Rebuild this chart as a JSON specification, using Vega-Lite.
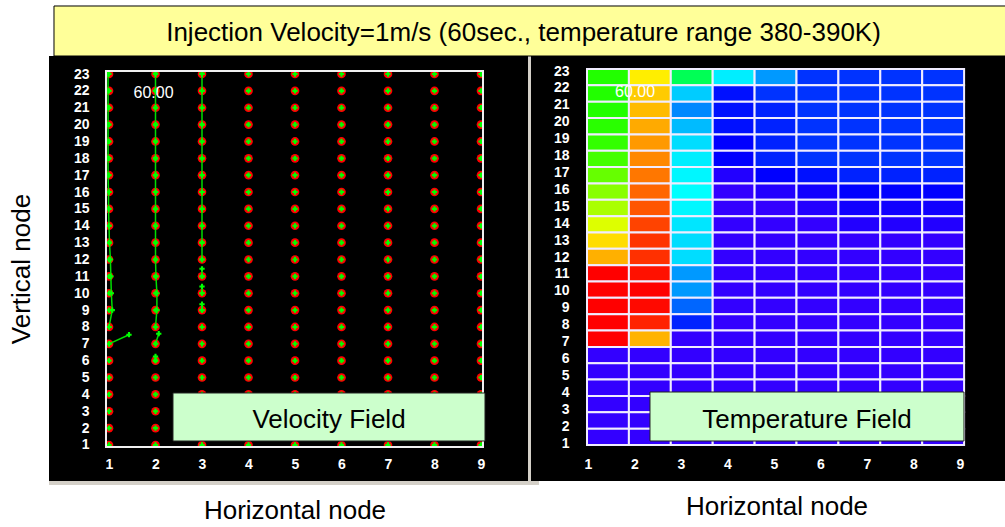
{
"$schema":"https://vega.github.io/schema/vega-lite/v6.json",
"background":"white",
"padding":{"left":8,"top":5,"right":0,"bottom":0},
"bounds":"flush",
"spacing":3,
"config":{
 "view":{"fill":"black","stroke":null},
 "font":"Liberation Sans",
 "axis":{"labelFont":"Liberation Sans","labelColor":"white","labelFontSize":14,"labelFontWeight":"bold","titleFont":"Liberation Sans","titleFontSize":26,"titleFontWeight":"normal","titleColor":"black","domain":false,"ticks":false,"grid":false,"labelPadding":0,"labelOverlap":false,"labelFlush":false}
},
"datasets":{
 "nodes":[
{"x":1,"y":1},{"x":1,"y":2},{"x":1,"y":3},{"x":1,"y":4},{"x":1,"y":5},{"x":1,"y":6},{"x":1,"y":7},{"x":1,"y":8},{"x":1,"y":9},{"x":1,"y":10},{"x":1,"y":11},{"x":1,"y":12},{"x":1,"y":13},{"x":1,"y":14},{"x":1,"y":15},{"x":1,"y":16},{"x":1,"y":17},{"x":1,"y":18},{"x":1,"y":19},{"x":1,"y":20},{"x":1,"y":21},{"x":1,"y":22},{"x":1,"y":23},
{"x":2,"y":1},{"x":2,"y":2},{"x":2,"y":3},{"x":2,"y":4},{"x":2,"y":5},{"x":2,"y":6},{"x":2,"y":7},{"x":2,"y":8},{"x":2,"y":9},{"x":2,"y":10},{"x":2,"y":11},{"x":2,"y":12},{"x":2,"y":13},{"x":2,"y":14},{"x":2,"y":15},{"x":2,"y":16},{"x":2,"y":17},{"x":2,"y":18},{"x":2,"y":19},{"x":2,"y":20},{"x":2,"y":21},{"x":2,"y":22},{"x":2,"y":23},
{"x":3,"y":1},{"x":3,"y":2},{"x":3,"y":3},{"x":3,"y":4},{"x":3,"y":5},{"x":3,"y":6},{"x":3,"y":7},{"x":3,"y":8},{"x":3,"y":9},{"x":3,"y":10},{"x":3,"y":11},{"x":3,"y":12},{"x":3,"y":13},{"x":3,"y":14},{"x":3,"y":15},{"x":3,"y":16},{"x":3,"y":17},{"x":3,"y":18},{"x":3,"y":19},{"x":3,"y":20},{"x":3,"y":21},{"x":3,"y":22},{"x":3,"y":23},
{"x":4,"y":1},{"x":4,"y":2},{"x":4,"y":3},{"x":4,"y":4},{"x":4,"y":5},{"x":4,"y":6},{"x":4,"y":7},{"x":4,"y":8},{"x":4,"y":9},{"x":4,"y":10},{"x":4,"y":11},{"x":4,"y":12},{"x":4,"y":13},{"x":4,"y":14},{"x":4,"y":15},{"x":4,"y":16},{"x":4,"y":17},{"x":4,"y":18},{"x":4,"y":19},{"x":4,"y":20},{"x":4,"y":21},{"x":4,"y":22},{"x":4,"y":23},
{"x":5,"y":1},{"x":5,"y":2},{"x":5,"y":3},{"x":5,"y":4},{"x":5,"y":5},{"x":5,"y":6},{"x":5,"y":7},{"x":5,"y":8},{"x":5,"y":9},{"x":5,"y":10},{"x":5,"y":11},{"x":5,"y":12},{"x":5,"y":13},{"x":5,"y":14},{"x":5,"y":15},{"x":5,"y":16},{"x":5,"y":17},{"x":5,"y":18},{"x":5,"y":19},{"x":5,"y":20},{"x":5,"y":21},{"x":5,"y":22},{"x":5,"y":23},
{"x":6,"y":1},{"x":6,"y":2},{"x":6,"y":3},{"x":6,"y":4},{"x":6,"y":5},{"x":6,"y":6},{"x":6,"y":7},{"x":6,"y":8},{"x":6,"y":9},{"x":6,"y":10},{"x":6,"y":11},{"x":6,"y":12},{"x":6,"y":13},{"x":6,"y":14},{"x":6,"y":15},{"x":6,"y":16},{"x":6,"y":17},{"x":6,"y":18},{"x":6,"y":19},{"x":6,"y":20},{"x":6,"y":21},{"x":6,"y":22},{"x":6,"y":23},
{"x":7,"y":1},{"x":7,"y":2},{"x":7,"y":3},{"x":7,"y":4},{"x":7,"y":5},{"x":7,"y":6},{"x":7,"y":7},{"x":7,"y":8},{"x":7,"y":9},{"x":7,"y":10},{"x":7,"y":11},{"x":7,"y":12},{"x":7,"y":13},{"x":7,"y":14},{"x":7,"y":15},{"x":7,"y":16},{"x":7,"y":17},{"x":7,"y":18},{"x":7,"y":19},{"x":7,"y":20},{"x":7,"y":21},{"x":7,"y":22},{"x":7,"y":23},
{"x":8,"y":1},{"x":8,"y":2},{"x":8,"y":3},{"x":8,"y":4},{"x":8,"y":5},{"x":8,"y":6},{"x":8,"y":7},{"x":8,"y":8},{"x":8,"y":9},{"x":8,"y":10},{"x":8,"y":11},{"x":8,"y":12},{"x":8,"y":13},{"x":8,"y":14},{"x":8,"y":15},{"x":8,"y":16},{"x":8,"y":17},{"x":8,"y":18},{"x":8,"y":19},{"x":8,"y":20},{"x":8,"y":21},{"x":8,"y":22},{"x":8,"y":23},
{"x":9,"y":1},{"x":9,"y":2},{"x":9,"y":3},{"x":9,"y":4},{"x":9,"y":5},{"x":9,"y":6},{"x":9,"y":7},{"x":9,"y":8},{"x":9,"y":9},{"x":9,"y":10},{"x":9,"y":11},{"x":9,"y":12},{"x":9,"y":13},{"x":9,"y":14},{"x":9,"y":15},{"x":9,"y":16},{"x":9,"y":17},{"x":9,"y":18},{"x":9,"y":19},{"x":9,"y":20},{"x":9,"y":21},{"x":9,"y":22},{"x":9,"y":23}
 ],
 "vectors":[
{"s":"a","x":1.0,"y":8},{"s":"a","x":1.07,"y":9},{"s":"a","x":1.05,"y":10},{"s":"a","x":1.04,"y":11},{"s":"a","x":1.03,"y":12},{"s":"a","x":1.01,"y":13},{"s":"a","x":1.0,"y":14},{"s":"a","x":0.99,"y":15},{"s":"a","x":0.99,"y":16},{"s":"a","x":0.98,"y":17},{"s":"a","x":0.98,"y":18},{"s":"a","x":0.98,"y":19},{"s":"a","x":0.98,"y":20},{"s":"a","x":0.98,"y":21},{"s":"a","x":0.98,"y":22},{"s":"a","x":0.98,"y":23},{"s":"a","x":0.98,"y":23.15},
{"s":"b","x":1,"y":7},{"s":"b","x":1.43,"y":7.54},
{"s":"c","x":2,"y":7},{"s":"c","x":2.07,"y":7.6},
{"s":"d","x":2.0,"y":8},{"s":"d","x":2.03,"y":9},{"s":"d","x":2.03,"y":10},{"s":"d","x":2.01,"y":11},{"s":"d","x":2,"y":12},{"s":"d","x":2,"y":13},{"s":"d","x":2,"y":14},{"s":"d","x":2,"y":15},{"s":"d","x":2,"y":16},{"s":"d","x":2,"y":17},{"s":"d","x":2,"y":18},{"s":"d","x":2,"y":19},{"s":"d","x":2,"y":20},{"s":"d","x":2,"y":21},{"s":"d","x":2,"y":22},{"s":"d","x":2,"y":23},{"s":"d","x":2,"y":23.15},
{"s":"e","x":3,"y":12},{"s":"e","x":3,"y":13},{"s":"e","x":3,"y":14},{"s":"e","x":3,"y":15},{"s":"e","x":3,"y":16},{"s":"e","x":3,"y":17},{"s":"e","x":3,"y":18},{"s":"e","x":3,"y":19},{"s":"e","x":3,"y":20},{"s":"e","x":3,"y":21},{"s":"e","x":3,"y":22},{"s":"e","x":3,"y":23},{"s":"e","x":3,"y":23.15},
{"s":"f","x":3,"y":9},{"s":"f","x":3,"y":9.35},
{"s":"g","x":3,"y":10},{"s":"g","x":3,"y":10.4},
{"s":"h","x":3,"y":11},{"s":"h","x":3,"y":11.45},
{"s":"i","x":2,"y":6},{"s":"i","x":2,"y":6.25}
 ],
 "cells":[
{"col":1,"row":23,"T":385.56},{"col":1,"row":22,"T":385.56},{"col":1,"row":21,"T":385.56},{"col":1,"row":20,"T":385.62},{"col":1,"row":19,"T":385.71},{"col":1,"row":18,"T":385.87},{"col":1,"row":17,"T":386.19},{"col":1,"row":16,"T":386.51},{"col":1,"row":15,"T":386.83},{"col":1,"row":14,"T":387.3},{"col":1,"row":13,"T":387.94},{"col":1,"row":12,"T":388.36},{"col":1,"row":11,"T":390},{"col":1,"row":10,"T":390},{"col":1,"row":9,"T":390},{"col":1,"row":8,"T":390},{"col":1,"row":7,"T":390},{"col":1,"row":6,"T":380},{"col":1,"row":5,"T":380},{"col":1,"row":4,"T":380},{"col":1,"row":3,"T":380},{"col":1,"row":2,"T":380},{"col":1,"row":1,"T":380},
{"col":2,"row":23,"T":387.78},{"col":2,"row":22,"T":388.1},{"col":2,"row":21,"T":388.25},{"col":2,"row":20,"T":388.41},{"col":2,"row":19,"T":388.57},{"col":2,"row":18,"T":388.73},{"col":2,"row":17,"T":388.89},{"col":2,"row":16,"T":389.05},{"col":2,"row":15,"T":389.21},{"col":2,"row":14,"T":389.37},{"col":2,"row":13,"T":389.52},{"col":2,"row":12,"T":389.55},{"col":2,"row":11,"T":389.84},{"col":2,"row":10,"T":390},{"col":2,"row":9,"T":389.92},{"col":2,"row":8,"T":389.68},{"col":2,"row":7,"T":388.33},{"col":2,"row":6,"T":380},{"col":2,"row":5,"T":380},{"col":2,"row":4,"T":380},{"col":2,"row":3,"T":380},{"col":2,"row":2,"T":380},{"col":2,"row":1,"T":380},
{"col":3,"row":23,"T":384.44},{"col":3,"row":22,"T":382.38},{"col":3,"row":21,"T":381.75},{"col":3,"row":20,"T":382.22},{"col":3,"row":19,"T":382.54},{"col":3,"row":18,"T":382.7},{"col":3,"row":17,"T":382.78},{"col":3,"row":16,"T":382.86},{"col":3,"row":15,"T":382.78},{"col":3,"row":14,"T":382.62},{"col":3,"row":13,"T":382.54},{"col":3,"row":12,"T":382.54},{"col":3,"row":11,"T":381.9},{"col":3,"row":10,"T":381.9},{"col":3,"row":9,"T":381.43},{"col":3,"row":8,"T":380.79},{"col":3,"row":7,"T":380},{"col":3,"row":6,"T":380},{"col":3,"row":5,"T":380},{"col":3,"row":4,"T":380},{"col":3,"row":3,"T":380},{"col":3,"row":2,"T":380},{"col":3,"row":1,"T":380},
{"col":4,"row":23,"T":382.7},{"col":4,"row":22,"T":380.63},{"col":4,"row":21,"T":380.63},{"col":4,"row":20,"T":380.63},{"col":4,"row":19,"T":380.48},{"col":4,"row":18,"T":380.48},{"col":4,"row":17,"T":380.16},{"col":4,"row":16,"T":380},{"col":4,"row":15,"T":380},{"col":4,"row":14,"T":380},{"col":4,"row":13,"T":380},{"col":4,"row":12,"T":380},{"col":4,"row":11,"T":380},{"col":4,"row":10,"T":380},{"col":4,"row":9,"T":380},{"col":4,"row":8,"T":380},{"col":4,"row":7,"T":380},{"col":4,"row":6,"T":380},{"col":4,"row":5,"T":380},{"col":4,"row":4,"T":380},{"col":4,"row":3,"T":380},{"col":4,"row":2,"T":380},{"col":4,"row":1,"T":380},
{"col":5,"row":23,"T":381.9},{"col":5,"row":22,"T":380.95},{"col":5,"row":21,"T":380.79},{"col":5,"row":20,"T":380.79},{"col":5,"row":19,"T":380.79},{"col":5,"row":18,"T":380.79},{"col":5,"row":17,"T":380.48},{"col":5,"row":16,"T":380.16},{"col":5,"row":15,"T":380},{"col":5,"row":14,"T":380},{"col":5,"row":13,"T":380},{"col":5,"row":12,"T":380},{"col":5,"row":11,"T":380},{"col":5,"row":10,"T":380},{"col":5,"row":9,"T":380},{"col":5,"row":8,"T":380},{"col":5,"row":7,"T":380},{"col":5,"row":6,"T":380},{"col":5,"row":5,"T":380},{"col":5,"row":4,"T":380},{"col":5,"row":3,"T":380},{"col":5,"row":2,"T":380},{"col":5,"row":1,"T":380},
{"col":6,"row":23,"T":380.95},{"col":6,"row":22,"T":380.95},{"col":6,"row":21,"T":380.95},{"col":6,"row":20,"T":380.95},{"col":6,"row":19,"T":380.95},{"col":6,"row":18,"T":380.95},{"col":6,"row":17,"T":380.63},{"col":6,"row":16,"T":380.32},{"col":6,"row":15,"T":380.16},{"col":6,"row":14,"T":380},{"col":6,"row":13,"T":380},{"col":6,"row":12,"T":380},{"col":6,"row":11,"T":380},{"col":6,"row":10,"T":380},{"col":6,"row":9,"T":380},{"col":6,"row":8,"T":380},{"col":6,"row":7,"T":380},{"col":6,"row":6,"T":380},{"col":6,"row":5,"T":380},{"col":6,"row":4,"T":380},{"col":6,"row":3,"T":380},{"col":6,"row":2,"T":380},{"col":6,"row":1,"T":380},
{"col":7,"row":23,"T":380.95},{"col":7,"row":22,"T":380.95},{"col":7,"row":21,"T":380.95},{"col":7,"row":20,"T":380.95},{"col":7,"row":19,"T":380.95},{"col":7,"row":18,"T":380.95},{"col":7,"row":17,"T":380.79},{"col":7,"row":16,"T":380.48},{"col":7,"row":15,"T":380.32},{"col":7,"row":14,"T":380.16},{"col":7,"row":13,"T":380},{"col":7,"row":12,"T":380},{"col":7,"row":11,"T":380},{"col":7,"row":10,"T":380},{"col":7,"row":9,"T":380},{"col":7,"row":8,"T":380},{"col":7,"row":7,"T":380},{"col":7,"row":6,"T":380},{"col":7,"row":5,"T":380},{"col":7,"row":4,"T":380},{"col":7,"row":3,"T":380},{"col":7,"row":2,"T":380},{"col":7,"row":1,"T":380},
{"col":8,"row":23,"T":380.95},{"col":8,"row":22,"T":380.95},{"col":8,"row":21,"T":380.95},{"col":8,"row":20,"T":380.95},{"col":8,"row":19,"T":380.95},{"col":8,"row":18,"T":380.95},{"col":8,"row":17,"T":380.79},{"col":8,"row":16,"T":380.48},{"col":8,"row":15,"T":380.32},{"col":8,"row":14,"T":380.16},{"col":8,"row":13,"T":380},{"col":8,"row":12,"T":380},{"col":8,"row":11,"T":380},{"col":8,"row":10,"T":380},{"col":8,"row":9,"T":380},{"col":8,"row":8,"T":380},{"col":8,"row":7,"T":380},{"col":8,"row":6,"T":380},{"col":8,"row":5,"T":380},{"col":8,"row":4,"T":380},{"col":8,"row":3,"T":380},{"col":8,"row":2,"T":380},{"col":8,"row":1,"T":380},
{"col":9,"row":23,"T":380.95},{"col":9,"row":22,"T":380.95},{"col":9,"row":21,"T":380.95},{"col":9,"row":20,"T":380.95},{"col":9,"row":19,"T":380.95},{"col":9,"row":18,"T":380.95},{"col":9,"row":17,"T":380.79},{"col":9,"row":16,"T":380.48},{"col":9,"row":15,"T":380.32},{"col":9,"row":14,"T":380.16},{"col":9,"row":13,"T":380},{"col":9,"row":12,"T":380},{"col":9,"row":11,"T":380},{"col":9,"row":10,"T":380},{"col":9,"row":9,"T":380},{"col":9,"row":8,"T":380},{"col":9,"row":7,"T":380},{"col":9,"row":6,"T":380},{"col":9,"row":5,"T":380},{"col":9,"row":4,"T":380},{"col":9,"row":3,"T":380},{"col":9,"row":2,"T":380},{"col":9,"row":1,"T":380}
 ]
},
"hconcat":[
 {
  "width":479,"height":425,
  "layer":[
   {"data":{"name":"nodes"},
    "mark":{"type":"circle","size":75,"color":"#ff0000","opacity":1},
    "encoding":{
     "x":{"field":"x","type":"quantitative","scale":{"domain":[-0.29032,10.01076],"nice":false,"zero":false},
          "axis":{"orient":"bottom","offset":-24,"values":[1,2,3,4,5,6,7,8,9],"format":"d","tickCount":30,"labelOverlap":false,"title":"Horizontal node","titleX":245.5,"titleY":53,"titleBaseline":"middle","titleAlign":"center"}},
     "y":{"field":"y","type":"quantitative","scale":{"domain":[-1.1349,24.0674],"nice":false,"zero":false},
          "axis":{"orient":"left","offset":-40,"values":[1,2,3,4,5,6,7,8,9,10,11,12,13,14,15,16,17,18,19,20,21,22,23],"format":"d","tickCount":30,"labelOverlap":false,"labelBound":false,"title":"Vertical node","titleX":-68,"titleY":212.5,"titleAngle":270,"titleBaseline":"middle","titleAlign":"center"}}
    }},
   {"data":{"name":"vectors"},
    "mark":{"type":"line","color":"#00dd00","strokeWidth":1.5,"point":{"shape":"cross","filled":true,"size":28,"color":"#00ff00","opacity":1}},
    "encoding":{"x":{"field":"x","type":"quantitative"},"y":{"field":"y","type":"quantitative"},"detail":{"field":"s"},"order":{"field":"y","type":"quantitative"}}},
   {"data":{"name":"nodes"},
    "mark":{"type":"point","shape":"cross","filled":true,"size":28,"color":"#00ff00","opacity":1},
    "encoding":{"x":{"field":"x","type":"quantitative"},"y":{"field":"y","type":"quantitative"}}},
   {"data":{"values":[{}]},
    "mark":{"type":"rect","filled":false,"color":"black","strokeWidth":8},
    "encoding":{"x":{"datum":0.84946},"x2":{"datum":9.12903},"y":{"datum":23.4151},"y2":{"datum":0.6442}}},
   {"data":{"values":[{}]},
    "mark":{"type":"rect","filled":false,"color":"#f0f0f0","strokeWidth":2},
    "encoding":{"x":{"datum":0.93548},"x2":{"datum":9.04301},"y":{"datum":23.1779},"y2":{"datum":0.8814}}},
   {"data":{"values":[{}]},
    "mark":{"type":"rect","fill":"#ccffcc","stroke":"#222222","strokeWidth":1},
    "encoding":{"x":{"datum":2.3763},"x2":{"datum":9.086},"y":{"datum":4.0835},"y2":{"datum":1.2371}}},
   {"data":{"values":[{"label":"Velocity Field"}]},
    "mark":{"type":"text","fontSize":26,"color":"black","align":"center","baseline":"alphabetic"},
    "encoding":{"x":{"datum":5.7312},"y":{"datum":2.008},"text":{"field":"label"}}},
   {"data":{"values":[{"label":"60.00"}]},
    "mark":{"type":"text","fontSize":16,"color":"white","align":"center","baseline":"alphabetic"},
    "encoding":{"x":{"datum":1.957},"y":{"datum":21.5768},"text":{"field":"label"}}},
   {"data":{"values":[{}]},
    "mark":{"type":"rect","fill":"#d4d0c8","strokeWidth":0},
    "encoding":{"x":{"datum":10.011},"x2":{"datum":10.0753},"y":{"datum":24.0674},"y2":{"datum":-1.3722}}},
   {"data":{"values":[{}]},
    "mark":{"type":"rect","fill":"#d4d0c8","strokeWidth":0},
    "encoding":{"x":{"datum":-0.29032},"x2":{"datum":10.2473},"y":{"datum":-1.1349},"y2":{"datum":-1.3722}}},
   {"data":{"values":[{}]},
    "mark":{"type":"rect","fill":"#ffff99","stroke":"black","strokeWidth":1},
    "encoding":{"x":{"datum":-0.1828},"x2":{"datum":20.3118},"y":{"datum":24.0674},"y2":{"datum":27.0324}}},
   {"data":{"values":[{"label":"Injection Velocity=1m/s (60sec., temperature range 380-390K)"}]},
    "mark":{"type":"text","fontSize":26,"color":"black","align":"center","baseline":"middle"},
    "encoding":{"x":{"datum":9.914},"y":{"datum":25.4313},"text":{"field":"label"}}}
  ]
 },
 {
  "width":475,"height":425,
  "layer":[
   {"data":{"name":"cells"},
    "mark":{"type":"rect","width":41.9,"height":16.35,"stroke":"#f0ecff","strokeWidth":2},
    "encoding":{
     "x":{"field":"col","type":"quantitative","scale":{"domain":[-0.83652,10.5],"nice":false,"zero":false},"axis":null},
     "y":{"field":"row","type":"quantitative","scale":{"domain":[-1.7018,24.2952],"nice":false,"zero":false},"axis":null},
     "color":{"field":"T","type":"quantitative","scale":{"domain":[380,380.476,382.857,385.238,387.619,390],"range":["#3300ff","#0000ff","#00ffff","#00ff00","#ffff00","#ff0000"],"interpolate":"rgb"},"legend":null}
    }},
   {"layer":[
     {"data":{"values":[{}]},
      "mark":{"type":"rect","fill":"#ccffcc","stroke":"#222222","strokeWidth":1},
      "encoding":{
       "x":{"datum":2.3333,"type":"quantitative","scale":{"domain":[-0.22581,9.98925],"nice":false,"zero":false},
            "axis":{"orient":"bottom","offset":-24,"values":[1,2,3,4,5,6,7,8,9],"format":"d","tickCount":30,"labelOverlap":false,"title":"Horizontal node","titleX":245.5,"titleY":49,"titleBaseline":"middle","titleAlign":"center"}},
       "x2":{"datum":9.086},
       "y":{"datum":4.0161,"type":"quantitative","scale":{"domain":[-1.2473,23.8871],"nice":false,"zero":false},
            "axis":{"orient":"left","offset":-38,"values":[1,2,3,4,5,6,7,8,9,10,11,12,13,14,15,16,17,18,19,20,21,22,23],"format":"d","tickCount":30,"labelOverlap":false,"labelBound":false,"title":null}},
       "y2":{"datum":1.1183}
      }},
     {"data":{"values":[{"label":"Temperature Field"}]},
      "mark":{"type":"text","fontSize":26,"color":"black","align":"center","baseline":"alphabetic"},
      "encoding":{"x":{"datum":5.7097},"y":{"datum":1.8871},"text":{"field":"label"}}},
     {"data":{"values":[{"label":"60.00"}]},
      "mark":{"type":"text","fontSize":16,"color":"white","align":"center","baseline":"alphabetic"},
      "encoding":{"x":{"datum":2.0108},"y":{"datum":21.4624},"text":{"field":"label"}}}
   ]}
  ],
  "resolve":{"scale":{"x":"independent","y":"independent"},"axis":{"x":"independent","y":"independent"}}
 }
]
}
